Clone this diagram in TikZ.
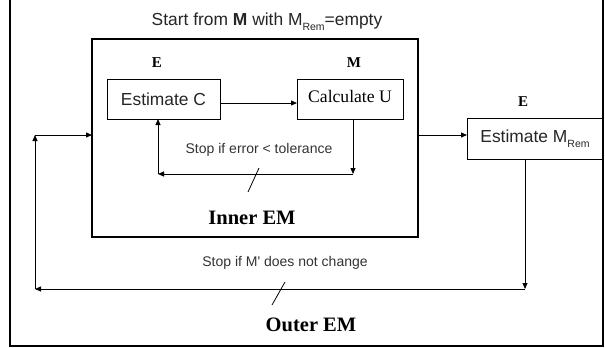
\documentclass[tikz,border=0pt]{standalone}
\usepackage{fontspec}
\setmainfont{Liberation Serif}
\newfontfamily\arial{Liberation Sans}
\usetikzlibrary{arrows.meta}
\newcommand{\subr}[1]{\raisebox{-0.3em}{\fontsize{10.5}{11}\selectfont #1}}
\begin{document}
\begin{tikzpicture}[x=1pt,y=-1pt,
  arr/.style={-{Triangle[length=6pt,width=5pt]}, line width=0.8pt},
  thin/.style={line width=0.8pt},
  box/.style={draw, line width=0.8pt, inner sep=0pt, outer sep=0pt},
  frame/.style={draw, line width=1.6pt, inner sep=0pt, outer sep=0pt},
  sans/.style={font=\arial\fontsize{17.4}{20}\selectfont, text=black!85},
  small/.style={font=\arial\fontsize{14}{16}\selectfont, text=black!80},
  lab/.style={font=\bfseries\fontsize{15}{17}\selectfont},
  big/.style={font=\bfseries\fontsize{20.5}{23}\selectfont}]
\fill[white] (0,0) rectangle (605,348);
\useasboundingbox (0,0) rectangle (605,348);
% frames
\node[frame, minimum width=593pt, minimum height=346.5pt] (outer) at (306.5,172.75) {};
\node[frame, minimum width=326pt, minimum height=198pt] (inner) at (255,138) {};
% boxes
\node[box, sans, minimum width=113pt, minimum height=40pt] (ec) at (163.5,99) {Estimate C};
\node[box, font=\fontsize{17.6}{20}\selectfont, minimum width=106pt, minimum height=40pt, text depth=5pt] (cu) at (350,99) {Calculate U};
\node[box, sans, minimum width=136pt, minimum height=41pt] (mr) at (535,138.5) {Estimate M\subr{Rem}};
% labels
\node[lab] (le1) at (157,63) {E};
\node[lab] (lm) at (354,63) {M};
\node[lab] (le2) at (523,102) {E};
\node[sans] (start) at (267,22) {Start from \textbf{M} with M\subr{Rem}=empty};
\node[small] (stop1) at (259,150) {Stop if error < tolerance};
\node[small] (stop2) at (285,263) {Stop if M' does not change};
\node[big] (innerlab) at (252,218) {Inner EM};
\node[big] (outerlab) at (311,325) {Outer EM};
% inner loop
\coordinate (il1) at (353,174);
\coordinate (il2) at (158,174);
\draw[arr] ([yshift=-4pt]ec.east) -- ([yshift=-4pt]cu.west);
\draw[arr] ([xshift=3pt]cu.south) -- (il1);
\draw[arr] (il1) -- (il2);
\draw[arr] (il2) -- (il2 |- ec.south);
\draw[thin] (259,168) -- (248,192);
% outer loop
\coordinate (ol1) at (525,289);
\coordinate (ol2) at (35,289);
\coordinate (ol3) at (35,135);
\draw[arr] ([yshift=3.5pt]mr.west -| inner.east) -- ([yshift=3.5pt]mr.west);
\draw[arr] ([xshift=-10pt]mr.south) -- (ol1);
\draw[arr] (ol1) -- (ol2);
\draw[arr] (ol2) -- (ol3);
\draw[arr] (ol3) -- (ol3 -| inner.west);
\draw[thin] (285,282) -- (272,305);
\end{tikzpicture}
\end{document}
